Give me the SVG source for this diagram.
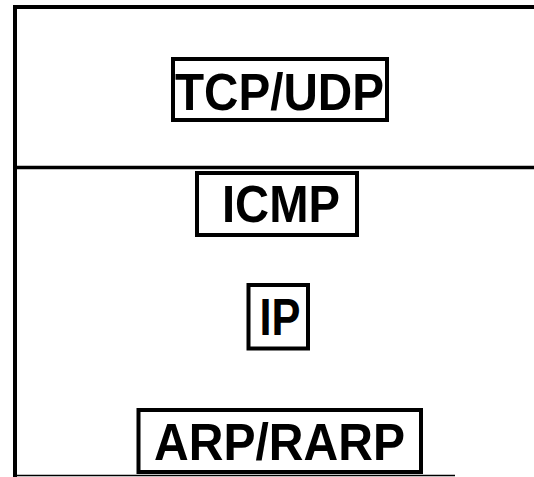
<svg xmlns="http://www.w3.org/2000/svg" width="534" height="477" viewBox="0 0 534 477">
<style>
.frame{stroke:#000;fill:none}
.box{fill:#fff;stroke:#000;stroke-width:4}
.lbl{font-family:"Liberation Sans",Arial,sans-serif;font-weight:bold;font-size:52px;fill:#000;text-anchor:middle}
</style>
<rect width="534" height="477" fill="#fff"/>
<g id="connectors">
<line class="frame" x1="13" y1="7" x2="534" y2="7" stroke-width="4"/>
<line class="frame" x1="15" y1="5" x2="15" y2="477" stroke-width="4"/>
<line class="frame" x1="15" y1="167.5" x2="534" y2="167.5" stroke-width="3.5"/>
<line class="frame" x1="15" y1="475.5" x2="455" y2="475.5" stroke-width="1.5"/>
</g>
<g id="tcpudp">
<rect class="box" x="173" y="59" width="214" height="61"/>
<text class="lbl" x="279.5" y="109.5" textLength="209" lengthAdjust="spacingAndGlyphs">TCP/UDP</text>
</g>
<g id="icmp">
<rect class="box" x="197" y="173" width="160" height="62"/>
<text class="lbl" x="281" y="221.5" textLength="118" lengthAdjust="spacingAndGlyphs">ICMP</text>
</g>
<g id="ip">
<rect class="box" x="248.5" y="285" width="59.5" height="63.5"/>
<text class="lbl" x="280" y="335" textLength="41" lengthAdjust="spacingAndGlyphs">IP</text>
</g>
<g id="arprarp">
<rect class="box" x="138.5" y="410" width="282.5" height="62"/>
<text class="lbl" x="279.5" y="459.5" textLength="251" lengthAdjust="spacingAndGlyphs">ARP/RARP</text>
</g>
</svg>
